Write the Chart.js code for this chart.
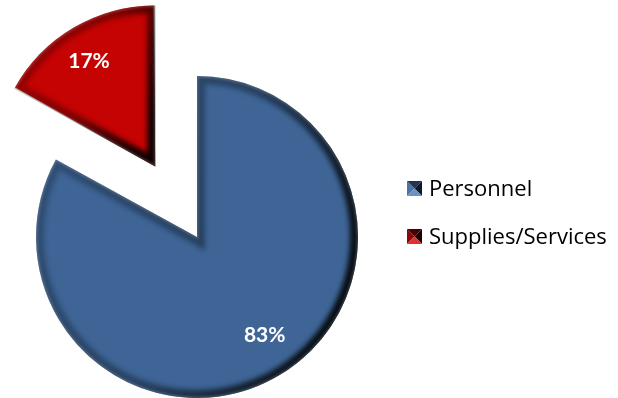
<!DOCTYPE html>
<html>
<head>
<meta charset="utf-8">
<script src="https://cdn.jsdelivr.net/npm/chart.js@4/dist/chart.umd.min.js"></script>
<style>
  html, body { margin: 0; padding: 0; background: #ffffff; }
  #wrap { width: 618px; height: 398px; position: relative; }
</style>
</head>
<body>
<div id="wrap"><canvas id="c" width="618" height="398"></canvas></div>
<script>
// Budget split by category (percent)
const categories = ['Personnel', 'Supplies/Services'];
const shares = [83, 17];
const shareLabels = ['83%', '17%'];

const sliceColors = ['#3E6596', '#C60303'];
const iconColors = [
  { left: '#4A74A8', top: '#1F3550', right: '#0E1A2A', bottom: '#6A92C6' },
  { left: '#8E0606', top: '#4A0000', right: '#1A0000', bottom: '#E53030' }
];

const LABEL_FONT = 'bold 21px Lato';
const LEGEND_FONT = '22px "Open Sans"';

// geometry of a drawn arc, following how ArcElement applies its offset
function arcGeom(arc) {
  const off = (arc.options.offset || 0) / 4;
  const mid = (arc.startAngle + arc.endAngle) / 2;
  const circ = arc.endAngle - arc.startAngle;
  const fix = 1 - Math.sin(Math.min(Math.PI, circ));
  return {
    x: arc.x + Math.cos(mid) * off,
    y: arc.y + Math.sin(mid) * off,
    r: arc.outerRadius + off * fix,
    s: arc.startAngle, e: arc.endAngle, mid
  };
}

function slicePath(ctx, g) {
  ctx.beginPath();
  ctx.moveTo(g.x, g.y);
  ctx.arc(g.x, g.y, g.r, g.s, g.e);
  ctx.closePath();
}

function sliceBox(g) {
  const xs = [g.x, g.x + Math.cos(g.s) * g.r, g.x + Math.cos(g.e) * g.r];
  const ys = [g.y, g.y + Math.sin(g.s) * g.r, g.y + Math.sin(g.e) * g.r];
  for (let k = -4; k <= 8; k++) {
    const a = k * Math.PI / 2;
    if (a > g.s && a < g.e) { xs.push(g.x + Math.cos(a) * g.r); ys.push(g.y + Math.sin(a) * g.r); }
  }
  return { l: Math.min(...xs), r: Math.max(...xs), t: Math.min(...ys), b: Math.max(...ys) };
}

// keep the exploded slice at the same radius as the others
const keepRadius = {
  id: 'keepRadius',
  afterDatasetsUpdate(chart) {
    chart.getDatasetMeta(0).data.forEach(arc => {
      const off = (arc.options.offset || 0) / 4;
      const circ = arc.endAngle - arc.startAngle;
      const fix = 1 - Math.sin(Math.min(Math.PI, circ));
      arc.outerRadius -= off * fix;
    });
  }
};

// label placement: fraction of radius and angle nudge (radians)
const labelPlace = [{ f: 0.74, da: -0.07 }, { f: 0.77, da: -0.03 }];

// soft bevel along each slice edge, then the percentage labels
const bevel = {
  id: 'bevel',
  afterDatasetsDraw(chart) {
    const ctx = chart.ctx;
    const arcs = chart.getDatasetMeta(0).data;
    arcs.forEach((arc, i) => {
      const g = arcGeom(arc);
      const bx = sliceBox(g);
      ctx.save();
      slicePath(ctx, g);
      ctx.clip();
      const grad = ctx.createLinearGradient(bx.l, bx.t + (bx.b - bx.t) * 0.3, bx.r, bx.b - (bx.b - bx.t) * 0.3);
      grad.addColorStop(0, 'rgba(0,0,0,0.22)');
      grad.addColorStop(0.5, 'rgba(0,0,0,0.35)');
      grad.addColorStop(0.85, 'rgba(0,0,0,0.75)');
      grad.addColorStop(1, 'rgba(0,0,0,0.92)');
      ctx.filter = 'blur(2.5px)';
      ctx.lineJoin = 'miter';
      ctx.lineWidth = 16;
      ctx.strokeStyle = grad;
      slicePath(ctx, g);
      ctx.stroke();
      ctx.filter = 'blur(0.8px)';
      ctx.lineWidth = 3;
      ctx.strokeStyle = 'rgba(255,255,255,0.18)';
      slicePath(ctx, g);
      ctx.stroke();
      ctx.restore();

      const p = labelPlace[i];
      const lr = g.r * p.f, la = g.mid + p.da;
      ctx.save();
      ctx.fillStyle = '#ffffff';
      ctx.font = LABEL_FONT + ', sans-serif';
      ctx.textAlign = 'center';
      ctx.textBaseline = 'middle';
      ctx.fillText(shareLabels[i], g.x + Math.cos(la) * lr, g.y + Math.sin(la) * lr);
      ctx.restore();
    });
  }
};

// legend with bevelled square markers
const sideLegend = {
  id: 'sideLegend',
  afterDraw(chart) {
    const ctx = chart.ctx;
    const x0 = 407, size = 15, gap = 48, baseY = 196;
    categories.forEach((name, i) => {
      const y = baseY + i * gap;
      const top = y - size, cx = x0 + size / 2, cy = top + size / 2;
      const c = iconColors[i];
      const tri = (pts, col) => {
        ctx.beginPath();
        ctx.moveTo(pts[0][0], pts[0][1]);
        ctx.lineTo(pts[1][0], pts[1][1]);
        ctx.lineTo(pts[2][0], pts[2][1]);
        ctx.closePath();
        ctx.fillStyle = col;
        ctx.fill();
      };
      ctx.save();
      tri([[x0, top], [x0, top + size], [cx, cy]], c.left);
      tri([[x0, top], [x0 + size, top], [cx, cy]], c.top);
      tri([[x0 + size, top], [x0 + size, top + size], [cx, cy]], c.right);
      tri([[x0, top + size], [x0 + size, top + size], [cx, cy]], c.bottom);
      ctx.fillStyle = '#000000';
      ctx.font = LEGEND_FONT + ', sans-serif';
      ctx.textAlign = 'left';
      ctx.textBaseline = 'alphabetic';
      ctx.fillText(name, 429, y);
      ctx.restore();
    });
  }
};

function build() {
  new Chart(document.getElementById('c'), {
    type: 'pie',
    data: {
      labels: categories,
      datasets: [{
        data: shares,
        backgroundColor: sliceColors,
        borderWidth: 0,
        offset: [0, 328],
        clip: false
      }]
    },
    options: {
      responsive: false,
      animation: false,
      radius: 161,
      cutout: '0%',
      layout: { padding: { left: 0, right: 224, top: 76, bottom: 0 } },
      plugins: {
        legend: { display: false },
        tooltip: { enabled: false }
      }
    },
    plugins: [keepRadius, bevel, sideLegend]
  });
}

Promise.all([document.fonts.load(LABEL_FONT), document.fonts.load(LEGEND_FONT)])
  .catch(() => null)
  .then(build);
</script>
</body>
</html>
